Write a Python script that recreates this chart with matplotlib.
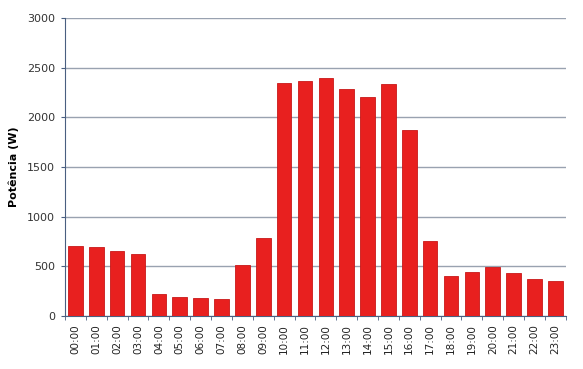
import matplotlib.pyplot as plt
import numpy as np

horas = ["%02d:00" % h for h in range(24)]
potencia = [705, 695, 651, 624, 218, 188, 181, 171, 510, 782, 2342, 2369,
            2393, 2285, 2205, 2336, 1876, 755, 399, 440, 497, 436, 372, 352]
y_ticks = [0, 500, 1000, 1500, 2000, 2500, 3000]

fig = plt.figure(figsize=(5.83, 3.69), dpi=100)
ax = fig.add_axes([0.1115, 0.1436, 0.859, 0.8076])

x = np.arange(len(horas))
ax.bar(x, potencia, width=0.7, color="#e8201f", edgecolor="#c81818", linewidth=0.6, zorder=3)

ax.set_xlim(-0.5, len(horas) - 0.5)
ax.set_ylim(0, 3000)
ax.set_yticks(y_ticks)
ax.set_yticklabels([str(v) for v in y_ticks], fontsize=8, color="#333333")
ax.set_xticks(x)
ax.set_xticklabels(horas, rotation=90, fontsize=7.5, color="#222222")
ax.tick_params(axis="x", length=0, pad=6)
ax.set_xticks(np.arange(-0.5, len(horas), 1), minor=True)
ax.tick_params(axis="x", which="minor", length=3, color="#4a5f80", direction="out")
ax.tick_params(axis="y", length=3, color="#4a5f80", pad=4)

ax.yaxis.grid(True, color="#99a2b0", linewidth=1.0, zorder=0)
ax.set_axisbelow(True)

for side in ["top", "right"]:
    ax.spines[side].set_visible(False)
ax.spines["left"].set_color("#4a5f80")
ax.spines["bottom"].set_color("#4a5f80")

ax.set_ylabel("Potência (W)", fontsize=8, fontweight="bold", labelpad=6)

fig.savefig("out.png", dpi=100)
